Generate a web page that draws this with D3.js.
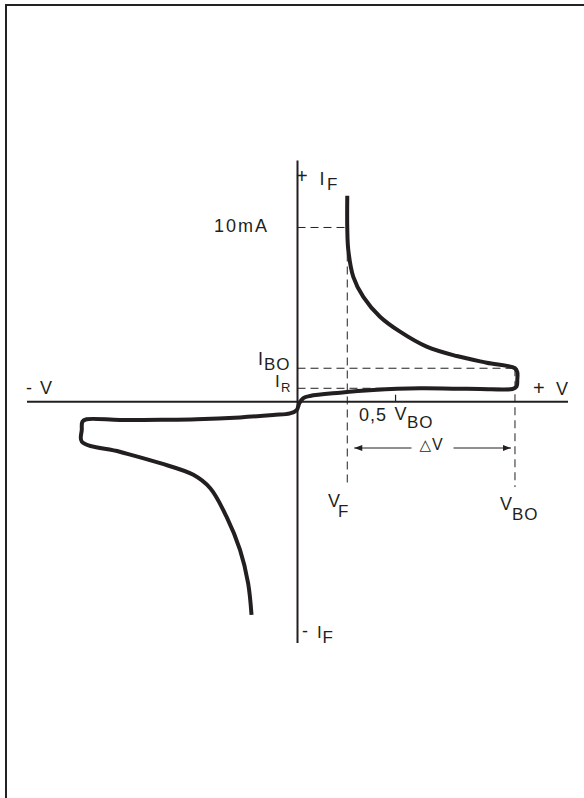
<!DOCTYPE html>
<html>
<head>
<meta charset="utf-8">
<script src="https://cdn.jsdelivr.net/npm/d3@7"></script>
<style>
  body { margin: 0; background: #fff; }
  text { font-family: "Liberation Sans", Arial, sans-serif; fill: #231f20; }
</style>
</head>
<body>
<script>
var w = 584;
var h = 798;

// thyristor / diac characteristic, V in volts, I in mA
var curveV = [7.36, 7.36, 7.51, 8.25, 9.73, 12.2, 15.16, 19.1, 23.54, 27.98, 32.16,
              32.5, 32.5, 32.4, 31.8, 27, 23, 18.1, 11.2, 6.3, 1.85, 0.86, 0.27,
              -0.12, -1.11, -3.6, -8.5, -14.9, -20, -26.3, -31.2, -31.8, -31.9, -31.9,
              -26.3, -20.3, -15.4, -12.9, -10.5, -8.5, -7.3, -6.8];
var curveI = [11.82, 9.97, 8.71, 7.17, 6.02, 4.88, 4.02, 3.16, 2.62, 2.24, 1.92,
              1.70, 1.25, 0.87, 0.73, 0.73, 0.75, 0.77, 0.67, 0.52, 0.33, 0.20, -0.09,
              -0.48, -0.67, -0.76, -0.9, -1.01, -1.04, -1.05, -1.01, -1.14, -1.62, -2.29,
              -2.87, -3.53, -4.2, -4.97, -6.6, -8.51, -10.42, -12.24];

// marked values
var VF = 7.36;
var VBO = 32.16;
var halfVBO = 14.5;
var I10 = 10;
var IBO = 1.92;
var IR = 0.77;

var x = d3.scaleLinear().domain([-40, 40]).range([27, 568]);
var y = d3.scaleLinear().domain([-13.85, 13.85]).range([643, 160.4]);

var svg = d3.select("body")
            .append("svg")
              .attr("width", w)
              .attr("height", h);

// frame
svg.append("path")
  .attr("d", "M6," + h + "V5H" + w)
  .attr("fill", "none")
  .attr("stroke", "#222")
  .attr("stroke-width", 2);

// axes
svg.append("line")
  .attr("x1", x(-40)).attr("x2", x(40))
  .attr("y1", y(0)).attr("y2", y(0))
  .attr("stroke", "#231f20").attr("stroke-width", 2);
svg.append("line")
  .attr("x1", x(0)).attr("x2", x(0))
  .attr("y1", y(13.85)).attr("y2", y(-13.85))
  .attr("stroke", "#231f20").attr("stroke-width", 2);

// 0,5 VBO tick
svg.append("line")
  .attr("x1", x(halfVBO)).attr("x2", x(halfVBO))
  .attr("y1", y(0)).attr("y2", y(0) - 7)
  .attr("stroke", "#231f20").attr("stroke-width", 1.2);

// dashed guides
var dashes = [
  [0, I10, VF, I10],
  [VF, I10, VF, -4.9],
  [0, IBO, VBO, IBO],
  [0, IR, VBO, IR],
  [VBO, IBO, VBO, -4.9]
];
svg.selectAll(".guide")
  .data(dashes)
  .enter()
  .append("line")
    .attr("class", "guide")
    .attr("x1", function(d) { return x(d[0]); })
    .attr("y1", function(d) { return y(d[1]); })
    .attr("x2", function(d) { return x(d[2]); })
    .attr("y2", function(d) { return y(d[3]); })
    .attr("stroke", "#231f20")
    .attr("stroke-width", 1)
    .attr("stroke-dasharray", "8,5");

// the characteristic
var pts = curveV.map(function(v, i) { return [v, curveI[i]]; });
var line = d3.line()
  .x(function(d) { return x(d[0]); })
  .y(function(d) { return y(d[1]); })
  .curve(d3.curveCatmullRom.alpha(0.5));

svg.append("path")
  .attr("d", line(pts))
  .attr("fill", "none")
  .attr("stroke", "#231f20")
  .attr("stroke-width", 4)
  .attr("stroke-linejoin", "round");

// delta V arrow
var ay = 448;
var ax1 = x(VF) + 7, ax2 = x(VBO) - 4;
svg.append("line").attr("x1", ax1).attr("x2", 411.5).attr("y1", ay).attr("y2", ay)
  .attr("stroke", "#231f20").attr("stroke-width", 1);
svg.append("line").attr("x1", 453.5).attr("x2", ax2).attr("y1", ay).attr("y2", ay)
  .attr("stroke", "#231f20").attr("stroke-width", 1);
svg.append("path")
  .attr("d", "M" + ax1 + "," + ay + "l8,-3v6z")
  .attr("fill", "#231f20");
svg.append("path")
  .attr("d", "M" + ax2 + "," + ay + "l-8,-3v6z")
  .attr("fill", "#231f20");

// labels
var labels = [
  {t: "10mA", x: 214, y: 232, s: 18, ls: 2},
  {t: "+", x: 296, y: 182.5, s: 20, ls: 0},
  {t: "I", x: 319.5, y: 185, s: 18, ls: 0},
  {t: "F", x: 327, y: 189.5, s: 17, ls: 0},
  {t: "I", x: 258, y: 365, s: 18, ls: 0},
  {t: "BO", x: 264, y: 369.5, s: 17, ls: 1},
  {t: "I", x: 275, y: 387, s: 17, ls: 0},
  {t: "R", x: 281, y: 392, s: 13, ls: 0},
  {t: "-", x: 26, y: 393.5, s: 18, ls: 0},
  {t: "V", x: 40, y: 393.5, s: 18, ls: 0},
  {t: "+", x: 533, y: 395, s: 20, ls: 0},
  {t: "V", x: 556, y: 394.5, s: 18, ls: 0},
  {t: "0,5", x: 359, y: 420.5, s: 18, ls: 1},
  {t: "V", x: 394.5, y: 420, s: 18, ls: 0},
  {t: "BO", x: 407, y: 428, s: 17, ls: 1},
  {t: "V", x: 432, y: 449.5, s: 16, ls: 0},
  {t: "V", x: 328, y: 507, s: 18, ls: 0},
  {t: "F", x: 338, y: 517, s: 17, ls: 0},
  {t: "V", x: 500, y: 510, s: 18, ls: 0},
  {t: "BO", x: 512, y: 520, s: 17, ls: 1},
  {t: "-", x: 302, y: 637, s: 18, ls: 0},
  {t: "I", x: 317, y: 638, s: 17, ls: 0},
  {t: "F", x: 322.5, y: 643, s: 17, ls: 0}
];

svg.selectAll(".lbl")
  .data(labels)
  .enter()
  .append("text")
    .attr("class", "lbl")
    .text(function(d) { return d.t; })
    .attr("x", function(d) { return d.x; })
    .attr("y", function(d) { return d.y; })
    .attr("font-size", function(d) { return d.s + "px"; })
    .attr("letter-spacing", function(d) { return d.ls; })
    .attr("text-anchor", "start");

svg.append("text")
  .text("\u25B3")
  .attr("x", 419.5)
  .attr("y", 449.5)
  .attr("font-size", "15px")
  .style("font-family", "'DejaVu Sans', sans-serif");
</script>
</body>
</html>
